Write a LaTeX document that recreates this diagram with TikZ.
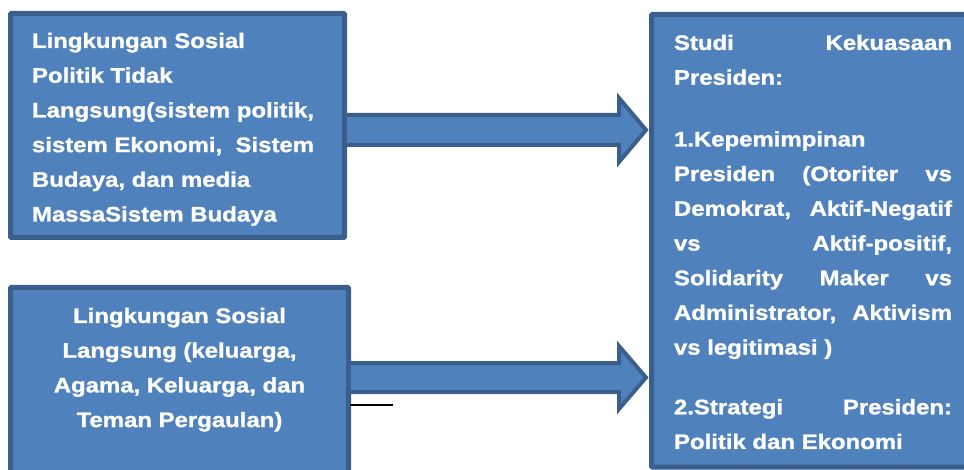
\documentclass[tikz,border=0pt]{standalone}
\usepackage{fontspec}
\setmainfont{Liberation Sans}[FakeStretch=1.14,BoldFeatures={FakeBold=1.2}]
\definecolor{boxfill}{HTML}{4F81BD}
\definecolor{boxline}{HTML}{3A5F8C}
\begin{document}
\begin{tikzpicture}[x=1pt,y=-1pt,
  blueblock/.style={draw=boxline,fill=boxfill,line width=5pt,rounded corners=1pt,
    inner sep=0pt,outer sep=0pt,anchor=north west},
  blockarrow/.style={draw=boxline,fill=boxfill,line width=4pt,line join=miter},
  boxtext/.style={inner sep=0pt,outer sep=0pt,anchor=base west,text=white,
    font=\fontsize{21}{34.7}\selectfont\bfseries}]
\useasboundingbox (0,0) rectangle (964,470);
\clip (0,0) rectangle (964,470);
% boxes (named, empty)
\node[blueblock,minimum width=334pt,minimum height=224pt] (b1) at (10.5,13.5) {};
\node[blueblock,minimum width=338pt,minimum height=202pt] (b2) at (10.5,287.5) {};
\node[blueblock,minimum width=338.5pt,minimum height=452.5pt] (b3) at (651.5,14.5) {};
% arrows
\draw[blockarrow] (b1.east |- 0,115) -- (619,115) -- (619,98) -- (646,130)
  -- (619,162) -- (619,145) -- (b1.east |- 0,145) -- cycle;
\draw[blockarrow] (b2.east |- 0,363) -- (619,363) -- (619,346) -- (646,377.5)
  -- (619,409) -- (619,392) -- (b2.east |- 0,392) -- cycle;
% redraw box outlines over arrow ends
\draw[boxline,line width=5pt] (b1.north east) -- (b1.south east);
\draw[boxline,line width=5pt] (b2.north east) -- (b2.south east);
\draw[boxline,line width=5pt] (b3.north west) -- (b3.south west);
% stray black line
\coordinate (l1) at (350,405);
\coordinate (l2) at (393,405);
\draw[black,line width=1.5pt] (l1) -- (l2);
% texts
\node[boxtext] (t1) at (32,48) {\parbox[t]{310pt}{\raggedright
Lingkungan Sosial\\
Politik Tidak\\
Langsung(sistem politik,\\
sistem Ekonomi,\ \ Sistem\\
Budaya, dan media\\
MassaSistem Budaya}};
\node[boxtext] (t2) at (29.5,323) {\parbox[t]{300pt}{\centering
Lingkungan Sosial\\
Langsung (keluarga,\\
Agama, Keluarga, dan\\
Teman Pergaulan)}};
\node[boxtext] (t3) at (674,50) {\parbox[t]{278pt}{\raggedright
\makebox[278pt][s]{Studi Kekuasaan}\\
Presiden:\\[27pt]
1.Kepemimpinan\\
\makebox[278pt][s]{Presiden (Otoriter vs}\\
\makebox[278pt][s]{Demokrat, Aktif-Negatif}\\
\makebox[278pt][s]{vs Aktif-positif,}\\
\makebox[278pt][s]{Solidarity Maker vs}\\
\makebox[278pt][s]{Administrator, Aktivism}\\
vs legitimasi )\\[25pt]
\makebox[278pt][s]{2.Strategi Presiden:}\\
Politik dan Ekonomi}};
\end{tikzpicture}
\end{document}
